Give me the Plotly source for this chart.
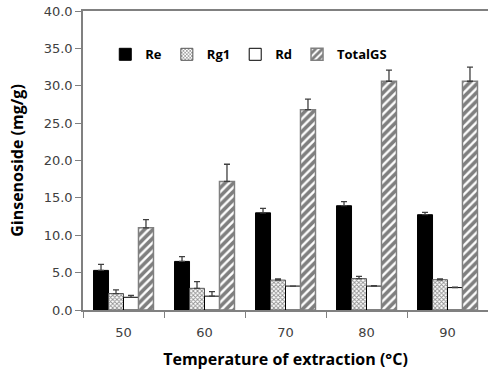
import plotly.graph_objects as go

temps = ["50", "60", "70", "80", "90"]
re_vals = [5.3, 6.5, 13.0, 13.95, 12.75]
re_err = [0.8, 0.65, 0.6, 0.55, 0.3]
rg1_vals = [2.2, 2.9, 4.0, 4.2, 4.05]
rg1_err = [0.5, 0.9, 0.15, 0.3, 0.1]
rd_vals = [1.7, 1.85, 3.2, 3.2, 3.0]
rd_err = [0.25, 0.6, 0.0, 0.05, 0.05]
tot_vals = [11.0, 17.2, 26.8, 30.6, 30.6]
tot_err = [1.1, 2.3, 1.4, 1.5, 1.9]

def err(a):
    return dict(type="data", array=a, arrayminus=[0]*len(a), symmetric=False,
                color="#404040", thickness=1.3, width=3)

fig = go.Figure()
fig.add_trace(go.Bar(name="Re", x=temps, y=re_vals, error_y=err(re_err),
                     marker=dict(color="black", line=dict(color="black", width=1))))
fig.add_trace(go.Bar(name="Rg1", x=temps, y=rg1_vals, error_y=err(rg1_err),
                     marker=dict(color="white", line=dict(color="#555555", width=1),
                                 pattern=dict(shape="x", size=3, solidity=0.5,
                                              fgcolor="#222222", bgcolor="white"))))
fig.add_trace(go.Bar(name="Rd", x=temps, y=rd_vals, error_y=err(rd_err),
                     marker=dict(color="white", line=dict(color="black", width=1))))
fig.add_trace(go.Bar(name="TotalGS", x=temps, y=tot_vals, error_y=err(tot_err),
                     marker=dict(color="white", line=dict(color="#808080", width=1.5),
                                 pattern=dict(shape="/", size=6, solidity=0.6,
                                              fgcolor="black", bgcolor="white"))))

fig.update_layout(
    width=488, height=371,
    margin=dict(l=83, r=0, t=11, b=61),
    paper_bgcolor="white", plot_bgcolor="white",
    barmode="group", bargap=0.26, bargroupgap=0,
    font=dict(family="DejaVu Sans", color="#404040"),
    legend=dict(orientation="h", x=0.055, y=0.855, xanchor="left", yanchor="middle",
                font=dict(family="Open Sans", size=13, color="black", weight="bold"),
                bgcolor="rgba(0,0,0,0)", itemwidth=30, tracegroupgap=0),
    xaxis=dict(
        showline=True, linecolor="#808080", linewidth=1.5, mirror=True,
        ticks="outside", tickson="boundaries", ticklen=6, tickcolor="#808080",
        ticklabelstandoff=10,
        tickfont=dict(family="DejaVu Sans", size=13, color="#404040"),
        title=dict(text="Temperature of extraction (°C)", standoff=14,
                   font=dict(family="Open Sans", size=16, color="black", weight="bold")),
        showgrid=False,
    ),
    yaxis=dict(
        range=[0, 40], dtick=5, tickformat=".1f",
        showline=True, linecolor="#808080", linewidth=1.5,
        ticks="outside", ticklen=6, tickcolor="#808080",
        tickfont=dict(family="DejaVu Sans", size=13, color="#404040"),
        title=dict(text="Ginsenoside (mg/g)", standoff=16,
                   font=dict(family="Open Sans", size=16, color="black", weight="bold")),
        showgrid=False, zeroline=False,
    ),
)

fig.write_html("out.html")
